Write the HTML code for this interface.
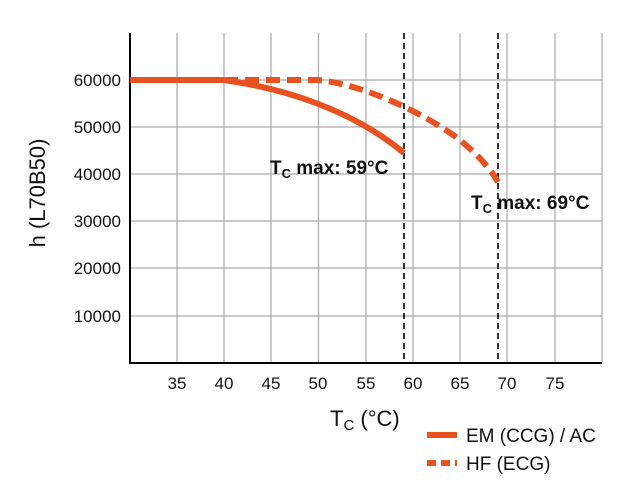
<!DOCTYPE html>
<html><head><style>body{margin:0;background:#fff}</style></head><body>
<svg width="638" height="496" xmlns="http://www.w3.org/2000/svg" font-family="Liberation Sans, sans-serif">
<g stroke="#aaa" stroke-width="1.2">
<line x1="177" y1="33" x2="177" y2="363"/><line x1="224" y1="33" x2="224" y2="363"/><line x1="271" y1="33" x2="271" y2="363"/><line x1="318.5" y1="33" x2="318.5" y2="363"/><line x1="366" y1="33" x2="366" y2="363"/><line x1="413" y1="33" x2="413" y2="363"/><line x1="460" y1="33" x2="460" y2="363"/><line x1="507" y1="33" x2="507" y2="363"/><line x1="555" y1="33" x2="555" y2="363"/><line x1="602" y1="33" x2="602" y2="363"/>
<line x1="130" y1="80" x2="602" y2="80"/><line x1="130" y1="127" x2="602" y2="127"/><line x1="130" y1="174" x2="602" y2="174"/><line x1="130" y1="221" x2="602" y2="221"/><line x1="130" y1="268" x2="602" y2="268"/><line x1="130" y1="316" x2="602" y2="316"/>
</g>
<line x1="130" y1="33" x2="130" y2="363" stroke="#000" stroke-width="2"/>
<line x1="129" y1="363" x2="602" y2="363" stroke="#000" stroke-width="2"/>
<g stroke="#000" stroke-width="1.6" stroke-dasharray="6,4">
<line x1="404" y1="33" x2="404" y2="363"/><line x1="498" y1="33" x2="498" y2="363"/>
</g>
<g fill="none" stroke="#ea5120" stroke-width="6">
<path d="M130 80 L224 80 C280 88 350 108 404 153"/>
<path d="M224 80 L318 80 C360 84 420 110 460 140 C478 155 490 168 498 182" stroke-dasharray="14,7"/>
</g>
<g font-size="17" text-anchor="end" fill="#111">
<text x="121" y="86">60000</text><text x="121" y="133">50000</text><text x="121" y="180">40000</text><text x="121" y="227">30000</text><text x="121" y="274">20000</text><text x="121" y="322">10000</text>
</g>
<g font-size="17" text-anchor="middle" fill="#111">
<text x="177" y="389">35</text><text x="224" y="389">40</text><text x="271" y="389">45</text><text x="318" y="389">50</text><text x="366" y="389">55</text><text x="413" y="389">60</text><text x="460" y="389">65</text><text x="507" y="389">70</text><text x="555" y="389">75</text>
</g>
<g font-size="19" font-weight="bold" fill="#111">
<text x="270" y="174">T<tspan font-size="13" dy="4">C</tspan><tspan dy="-4"> max: 59°C</tspan></text>
<text x="471" y="209">T<tspan font-size="13" dy="4">C</tspan><tspan dy="-4"> max: 69°C</tspan></text>
</g>
<text x="330" y="426" font-size="22" fill="#111">T<tspan font-size="15" dy="4">C</tspan><tspan dy="-4"> (°C)</tspan></text>
<text transform="translate(45,193) rotate(-90)" font-size="22" text-anchor="middle" fill="#111">h (L70B50)</text>
<line x1="427" y1="435" x2="457" y2="435" stroke="#ea5120" stroke-width="6"/>
<line x1="427" y1="463" x2="457" y2="463" stroke="#ea5120" stroke-width="6" stroke-dasharray="9,5"/>
<text x="466" y="442" font-size="19" fill="#111">EM (CCG) / AC</text>
<text x="466" y="470" font-size="19" fill="#111">HF (ECG)</text>
</svg>
</body></html>
